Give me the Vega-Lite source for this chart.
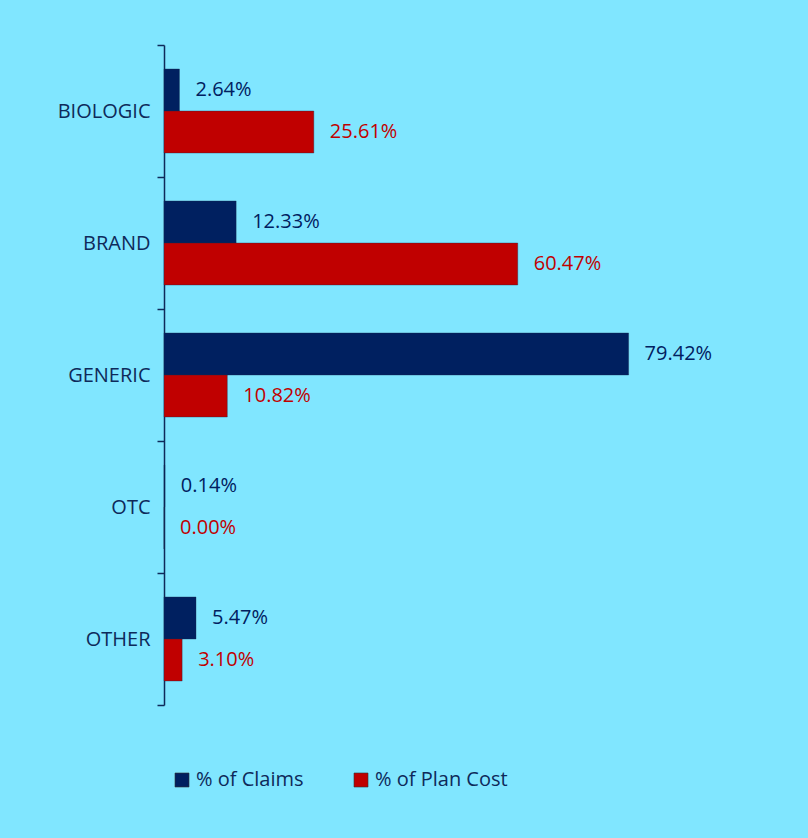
{
  "$schema": "https://vega.github.io/schema/vega-lite/v6.json",
  "width": 585,
  "height": 660,
  "autosize": {"type": "none"},
  "padding": {"left": 164, "top": 45, "right": 59, "bottom": 133},
  "background": "#80E6FF",
  "config": {"view": {"stroke": null}, "font": "Open Sans"},
  "data": {
    "values": [
      {"category": "BIOLOGIC", "series": "% of Claims", "value": 0.0264},
      {"category": "BIOLOGIC", "series": "% of Plan Cost", "value": 0.2561},
      {"category": "BRAND", "series": "% of Claims", "value": 0.1233},
      {"category": "BRAND", "series": "% of Plan Cost", "value": 0.6047},
      {"category": "GENERIC", "series": "% of Claims", "value": 0.7942},
      {"category": "GENERIC", "series": "% of Plan Cost", "value": 0.1082},
      {"category": "OTC", "series": "% of Claims", "value": 0.0014},
      {"category": "OTC", "series": "% of Plan Cost", "value": 0.0},
      {"category": "OTHER", "series": "% of Claims", "value": 0.0547},
      {"category": "OTHER", "series": "% of Plan Cost", "value": 0.031}
    ]
  },
  "encoding": {
    "y": {
      "field": "category",
      "type": "nominal",
      "sort": ["BIOLOGIC", "BRAND", "GENERIC", "OTC", "OTHER"],
      "scale": {"paddingInner": 0, "paddingOuter": 0},
      "axis": {
        "title": null,
        "tickBand": "extent",
        "domainColor": "#0E2A5A",
        "domainWidth": 1.5,
        "tickColor": "#0E2A5A",
        "tickWidth": 1.5,
        "tickSize": 7,
        "labelPadding": 7,
        "labelFont": "Open Sans",
        "labelFontSize": 20,
        "labelColor": "#0E2A5A"
      }
    },
    "yOffset": {
      "field": "series",
      "type": "nominal",
      "sort": ["% of Claims", "% of Plan Cost"],
      "scale": {"paddingInner": 0, "paddingOuter": 0.571}
    },
    "x": {
      "field": "value",
      "type": "quantitative",
      "scale": {"domain": [0, 1], "nice": false},
      "axis": null
    }
  },
  "layer": [
    {
      "mark": {"type": "bar", "stroke": "#1a2a4a", "strokeWidth": 0.6, "strokeOpacity": 0.6},
      "encoding": {
        "color": {
          "field": "series",
          "type": "nominal",
          "scale": {"domain": ["% of Claims", "% of Plan Cost"], "range": ["#002060", "#C00000"]},
          "legend": {
            "title": null,
            "orient": "none",
            "direction": "horizontal",
            "legendX": 8,
            "legendY": 725,
            "padding": 0,
            "symbolType": "square",
            "symbolSize": 196,
            "symbolStrokeWidth": 0.6,
            "symbolStrokeColor": "#333333",
            "labelFont": "Open Sans",
            "labelFontSize": 20,
            "labelColor": "#0E2A5A",
            "labelOffset": 4,
            "columnPadding": 47
          }
        }
      }
    },
    {
      "mark": {"type": "text", "align": "left", "baseline": "middle", "dx": 16, "font": "Open Sans", "fontSize": 20},
      "encoding": {
        "text": {"field": "value", "type": "quantitative", "format": ".2%"},
        "color": {
          "field": "series",
          "type": "nominal",
          "scale": {"domain": ["% of Claims", "% of Plan Cost"], "range": ["#002060", "#C00000"]},
          "legend": null
        }
      }
    }
  ]
}
